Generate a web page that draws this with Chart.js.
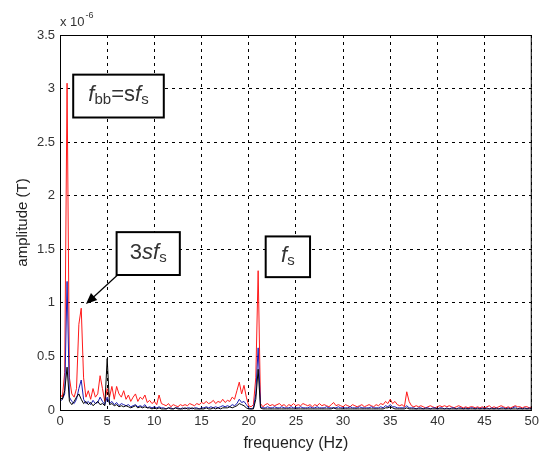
<!DOCTYPE html>
<html>
<head>
<meta charset="utf-8">
<script src="https://cdn.jsdelivr.net/npm/chart.js@4.4.3/dist/chart.umd.min.js"></script>
<style>
  html, body { margin: 0; padding: 0; background: #fff; }
  #chart { display: block; }
</style>
</head>
<body>
<canvas id="chart" width="543" height="453"></canvas>
<script>
// frequency grid (Hz)
const freqHz = [
  0, 0.25, 0.5, 0.75, 1, 1.25, 1.5, 1.75, 2, 2.25, 2.5, 2.75, 3, 3.25, 3.5, 3.75, 4, 4.25, 4.5, 4.75,
  5, 5.25, 5.5, 5.75, 6, 6.25, 6.5, 6.75, 7, 7.25, 7.5, 7.75, 8, 8.25, 8.5, 8.75, 9, 9.25, 9.5, 9.75,
  10, 10.25, 10.5, 10.75, 11, 11.25, 11.5, 11.75, 12, 12.25, 12.5, 12.75, 13, 13.25, 13.5, 13.75, 14, 14.25, 14.5, 14.75,
  15, 15.25, 15.5, 15.75, 16, 16.25, 16.5, 16.75, 17, 17.25, 17.5, 17.75, 18, 18.25, 18.5, 18.75, 19, 19.25, 19.5, 19.75,
  20, 20.25, 20.5, 20.75, 21, 21.25, 21.5, 21.75, 22, 22.25, 22.5, 22.75, 23, 23.25, 23.5, 23.75, 24, 24.25, 24.5, 24.75,
  25, 25.25, 25.5, 25.75, 26, 26.25, 26.5, 26.75, 27, 27.25, 27.5, 27.75, 28, 28.25, 28.5, 28.75, 29, 29.25, 29.5, 29.75,
  30, 30.25, 30.5, 30.75, 31, 31.25, 31.5, 31.75, 32, 32.25, 32.5, 32.75, 33, 33.25, 33.5, 33.75, 34, 34.25, 34.5, 34.75,
  35, 35.25, 35.5, 35.75, 36, 36.25, 36.5, 36.75, 37, 37.25, 37.5, 37.75, 38, 38.25, 38.5, 38.75, 39, 39.25, 39.5, 39.75,
  40, 40.25, 40.5, 40.75, 41, 41.25, 41.5, 41.75, 42, 42.25, 42.5, 42.75, 43, 43.25, 43.5, 43.75, 44, 44.25, 44.5, 44.75,
  45, 45.25, 45.5, 45.75, 46, 46.25, 46.5, 46.75, 47, 47.25, 47.5, 47.75, 48, 48.25, 48.5, 48.75, 49, 49.25, 49.5, 49.75,
  50
];

// amplitudes in units of 1e-6 T
const ampRed = [
  0.15, 0.12, 0.35, 3.05, 0.3, 0.15, 0.12, 0.2, 0.8, 0.95, 0.3, 0.12, 0.18, 0.1, 0.2, 0.12, 0.15, 0.32, 0.2, 0.08,
  0.2, 0.12, 0.22, 0.1, 0.22, 0.15, 0.12, 0.18, 0.1, 0.14, 0.08, 0.12, 0.15, 0.08, 0.12, 0.1, 0.14, 0.07, 0.09, 0.06,
  0.08, 0.05, 0.14, 0.06, 0.05, 0.04, 0.06, 0.03, 0.05, 0.04, 0.03, 0.05, 0.04, 0.05, 0.04, 0.06, 0.05, 0.04, 0.06, 0.05,
  0.07, 0.06, 0.08, 0.06, 0.07, 0.09, 0.06, 0.08, 0.07, 0.1, 0.07, 0.09, 0.08, 0.12, 0.1, 0.18, 0.26, 0.15, 0.23, 0.12,
  0.04, 0.03, 0.05, 0.3, 1.3, 0.06, 0.03, 0.05, 0.06, 0.04, 0.05, 0.04, 0.05, 0.06, 0.04, 0.05, 0.03, 0.05, 0.04, 0.06,
  0.04, 0.05, 0.04, 0.06, 0.05, 0.04, 0.05, 0.03, 0.05, 0.04, 0.06, 0.04, 0.05, 0.04, 0.03, 0.05, 0.07, 0.04, 0.05, 0.04,
  0.03, 0.05, 0.04, 0.03, 0.05, 0.04, 0.03, 0.04, 0.05, 0.03, 0.04, 0.05, 0.04, 0.03, 0.05, 0.04, 0.06, 0.05, 0.08, 0.06,
  0.1, 0.06, 0.08, 0.05, 0.04, 0.05, 0.03, 0.17, 0.08, 0.04, 0.03, 0.04, 0.03, 0.04, 0.03, 0.02, 0.03, 0.04, 0.03, 0.02,
  0.03, 0.04, 0.03, 0.04, 0.03, 0.04, 0.03, 0.02, 0.03, 0.04, 0.03, 0.02, 0.03, 0.02, 0.03, 0.03, 0.02, 0.03, 0.02, 0.03,
  0.02, 0.03, 0.04, 0.02, 0.03, 0.02, 0.03, 0.04, 0.03, 0.02, 0.03, 0.02, 0.03, 0.04, 0.03, 0.03, 0.02, 0.03, 0.03, 0.02,
  0.03
];

const ampBlue = [
  0.08, 0.1, 0.15, 1.2, 0.12, 0.08, 0.06, 0.1, 0.2, 0.28, 0.1, 0.06, 0.08, 0.05, 0.09, 0.06, 0.07, 0.12, 0.08, 0.05,
  0.12, 0.06, 0.08, 0.05, 0.07, 0.04, 0.06, 0.05, 0.04, 0.05, 0.03, 0.04, 0.05, 0.03, 0.04, 0.03, 0.05, 0.02, 0.03, 0.02,
  0.03, 0.02, 0.03, 0.02, 0.02, 0.01, 0.02, 0.02, 0.01, 0.02, 0.02, 0.01, 0.02, 0.01, 0.02, 0.02, 0.01, 0.02, 0.02, 0.01,
  0.02, 0.02, 0.03, 0.02, 0.03, 0.02, 0.03, 0.02, 0.03, 0.04, 0.03, 0.04, 0.03, 0.05, 0.04, 0.06, 0.1, 0.07, 0.08, 0.05,
  0.02, 0.01, 0.02, 0.15, 0.58, 0.03, 0.02, 0.02, 0.03, 0.02, 0.02, 0.03, 0.02, 0.02, 0.03, 0.02, 0.02, 0.02, 0.03, 0.02,
  0.02, 0.02, 0.03, 0.02, 0.02, 0.02, 0.03, 0.02, 0.02, 0.03, 0.02, 0.02, 0.02, 0.03, 0.02, 0.02, 0.02, 0.02, 0.03, 0.02,
  0.02, 0.02, 0.02, 0.03, 0.02, 0.02, 0.02, 0.03, 0.02, 0.02, 0.02, 0.02, 0.03, 0.02, 0.02, 0.02, 0.03, 0.02, 0.04, 0.03,
  0.05, 0.03, 0.03, 0.02, 0.02, 0.02, 0.02, 0.04, 0.02, 0.02, 0.02, 0.01, 0.02, 0.02, 0.01, 0.02, 0.02, 0.01, 0.02, 0.02,
  0.01, 0.02, 0.02, 0.01, 0.02, 0.01, 0.02, 0.02, 0.01, 0.02, 0.02, 0.01, 0.02, 0.01, 0.02, 0.02, 0.01, 0.02, 0.01, 0.02,
  0.01, 0.02, 0.01, 0.02, 0.01, 0.02, 0.01, 0.02, 0.02, 0.01, 0.02, 0.01, 0.02, 0.03, 0.01, 0.02, 0.01, 0.02, 0.01, 0.02,
  0.01
];

const ampBlack = [
  0.12, 0.1, 0.18, 0.4, 0.08, 0.05, 0.08, 0.12, 0.15, 0.1, 0.06, 0.08, 0.05, 0.07, 0.04, 0.06, 0.08, 0.05, 0.06, 0.04,
  0.48, 0.05, 0.06, 0.04, 0.05, 0.03, 0.04, 0.03, 0.04, 0.03, 0.02, 0.03, 0.04, 0.02, 0.03, 0.02, 0.03, 0.02, 0.02, 0.01,
  0.02, 0.01, 0.02, 0.01, 0.01, 0.01, 0.02, 0.01, 0.01, 0.02, 0.01, 0.01, 0.01, 0.02, 0.01, 0.01, 0.02, 0.01, 0.01, 0.01,
  0.01, 0.01, 0.02, 0.01, 0.01, 0.02, 0.01, 0.02, 0.01, 0.02, 0.02, 0.02, 0.03, 0.02, 0.03, 0.04, 0.06, 0.05, 0.04, 0.02,
  0.01, 0.01, 0.01, 0.1, 0.38, 0.02, 0.01, 0.01, 0.01, 0.01, 0.01, 0.01, 0.01, 0.01, 0.01, 0.01, 0.01, 0.01, 0.01, 0.01,
  0.01, 0.01, 0.01, 0.01, 0.01, 0.01, 0.01, 0.01, 0.01, 0.01, 0.01, 0.01, 0.01, 0.01, 0.01, 0.01, 0.02, 0.01, 0.01, 0.01,
  0.01, 0.01, 0.01, 0.01, 0.01, 0.01, 0.01, 0.01, 0.01, 0.01, 0.01, 0.01, 0.01, 0.01, 0.01, 0.01, 0.01, 0.01, 0.02, 0.02,
  0.03, 0.02, 0.01, 0.01, 0.01, 0.01, 0.01, 0.02, 0.01, 0.01, 0.01, 0.01, 0.01, 0.01, 0.01, 0.01, 0.01, 0.01, 0.01, 0.01,
  0.01, 0.01, 0.01, 0.01, 0.01, 0.01, 0.01, 0.01, 0.01, 0.01, 0.01, 0.01, 0.01, 0.01, 0.01, 0.01, 0.01, 0.01, 0.01, 0.01,
  0.01, 0.01, 0.01, 0.01, 0.01, 0.01, 0.01, 0.01, 0.01, 0.01, 0.01, 0.01, 0.01, 0.01, 0.01, 0.01, 0.01, 0.01, 0.01, 0.01,
  0.01
];

const xTicks = [0, 5, 10, 15, 20, 25, 30, 35, 40, 45, 50];
const yTicks = [0, 0.5, 1, 1.5, 2, 2.5, 3, 3.5];

// annotation boxes, in data coordinates (Hz, 1e-6 T)
const noteBoxes = [
  { x0: 1.4, x1: 11.0, y0: 2.73, y1: 3.13,
    parts: [{ t: 'f', it: true }, { t: 'bb', sub: true }, { t: '=s' }, { t: 'f', it: true }, { t: 's', sub: true }] },
  { x0: 6.0, x1: 12.7, y0: 1.26, y1: 1.66,
    parts: [{ t: '3' }, { t: 'sf', it: true }, { t: 's', sub: true }] },
  { x0: 21.8, x1: 26.5, y0: 1.24, y1: 1.62,
    parts: [{ t: 'f', it: true }, { t: 's', sub: true }] }
];
const noteArrow = { fromX: 6.1, fromY: 1.26, toX: 2.75, toY: 0.99 };

const FONT = '"Liberation Sans", Arial, sans-serif';

function partFont(p) {
  const size = p.sub ? 15 : 22;
  return (p.it ? 'italic ' : '') + size + 'px ' + FONT;
}

function drawParts(ctx, parts, cx, cy) {
  let total = 0;
  parts.forEach(p => {
    ctx.font = partFont(p);
    p.w = ctx.measureText(p.t).width;
    total += p.w;
  });
  let x = cx - total / 2;
  ctx.textBaseline = 'middle';
  ctx.textAlign = 'left';
  parts.forEach(p => {
    ctx.font = partFont(p);
    ctx.fillText(p.t, x, cy + (p.sub ? 5 : 0));
    x += p.w;
  });
}

const extrasPlugin = {
  id: 'extras',
  afterDraw(chart) {
    const { ctx, chartArea, scales } = chart;
    const xs = scales.x, ys = scales.y;
    ctx.save();

    // plot frame
    ctx.strokeStyle = '#000';
    ctx.lineWidth = 1;
    ctx.setLineDash([]);
    ctx.strokeRect(chartArea.left + 0.5, chartArea.top + 0.5,
      chartArea.right - chartArea.left - 1, chartArea.bottom - chartArea.top);

    // exponent label
    ctx.fillStyle = '#333';
    ctx.textAlign = 'left';
    ctx.textBaseline = 'alphabetic';
    ctx.font = '13px ' + FONT;
    ctx.fillText('x 10', chartArea.left, chartArea.top - 9);
    const w = ctx.measureText('x 10').width;
    ctx.font = '9px ' + FONT;
    ctx.fillText('-6', chartArea.left + w + 1, chartArea.top - 17);

    // arrow
    const ax0 = xs.getPixelForValue(noteArrow.fromX), ay0 = ys.getPixelForValue(noteArrow.fromY);
    const ax1 = xs.getPixelForValue(noteArrow.toX), ay1 = ys.getPixelForValue(noteArrow.toY);
    const ang = Math.atan2(ay1 - ay0, ax1 - ax0);
    const head = 12;
    ctx.strokeStyle = '#000';
    ctx.lineWidth = 1.2;
    ctx.beginPath();
    ctx.moveTo(ax0, ay0);
    ctx.lineTo(ax1 - Math.cos(ang) * head * 0.8, ay1 - Math.sin(ang) * head * 0.8);
    ctx.stroke();
    ctx.fillStyle = '#000';
    ctx.beginPath();
    ctx.moveTo(ax1, ay1);
    ctx.lineTo(ax1 - head * Math.cos(ang - 0.4), ay1 - head * Math.sin(ang - 0.4));
    ctx.lineTo(ax1 - head * Math.cos(ang + 0.4), ay1 - head * Math.sin(ang + 0.4));
    ctx.closePath();
    ctx.fill();

    // boxes
    noteBoxes.forEach(b => {
      const l = xs.getPixelForValue(b.x0), r = xs.getPixelForValue(b.x1);
      const t = ys.getPixelForValue(b.y1), btm = ys.getPixelForValue(b.y0);
      ctx.fillStyle = '#fff';
      ctx.fillRect(l, t, r - l, btm - t);
      ctx.strokeStyle = '#000';
      ctx.lineWidth = 2;
      ctx.strokeRect(l, t, r - l, btm - t);
      ctx.fillStyle = '#333';
      drawParts(ctx, b.parts, (l + r) / 2, (t + btm) / 2 - 1);
    });

    ctx.restore();
  }
};

const lineStyle = { borderWidth: 1, pointRadius: 0, tension: 0, fill: false };

new Chart(document.getElementById('chart'), {
  type: 'line',
  data: {
    labels: freqHz,
    datasets: [
      { label: 'black', data: ampBlack, borderColor: '#000000', ...lineStyle },
      { label: 'blue', data: ampBlue, borderColor: '#1c1cb4', ...lineStyle },
      { label: 'red', data: ampRed, borderColor: '#ff1a1a', ...lineStyle }
    ]
  },
  options: {
    responsive: false,
    animation: false,
    events: [],
    layout: { padding: { left: 0, right: 10, top: 35, bottom: 0 } },
    plugins: { legend: { display: false }, tooltip: { enabled: false } },
    scales: {
      x: {
        type: 'linear',
        min: 0,
        max: 50,
        afterFit(scale) { scale.height = 43; },
        afterBuildTicks(scale) { scale.ticks = xTicks.map(v => ({ value: v })); },
        ticks: { color: '#333', font: { family: FONT, size: 13 }, padding: 4, maxRotation: 0, callback: v => String(v) },
        grid: { color: '#000', lineWidth: 1, drawTicks: false },
        border: { display: false, dash: [3, 4] },
        title: { display: true, text: 'frequency (Hz)', color: '#222', font: { family: FONT, size: 16 }, padding: { top: 0, bottom: 0 } }
      },
      y: {
        min: 0,
        max: 3.5,
        afterFit(scale) { scale.width = 60; },
        afterBuildTicks(scale) { scale.ticks = yTicks.map(v => ({ value: v })); },
        ticks: { color: '#333', font: { family: FONT, size: 13 }, padding: 5, callback: v => String(v) },
        grid: { color: '#000', lineWidth: 1, drawTicks: false },
        border: { display: false, dash: [3, 4] },
        title: { display: true, text: 'amplitude (T)', color: '#222', font: { family: FONT, size: 15 }, padding: { top: 14, bottom: 0 } }
      }
    }
  },
  plugins: [extrasPlugin]
});
</script>
</body>
</html>
